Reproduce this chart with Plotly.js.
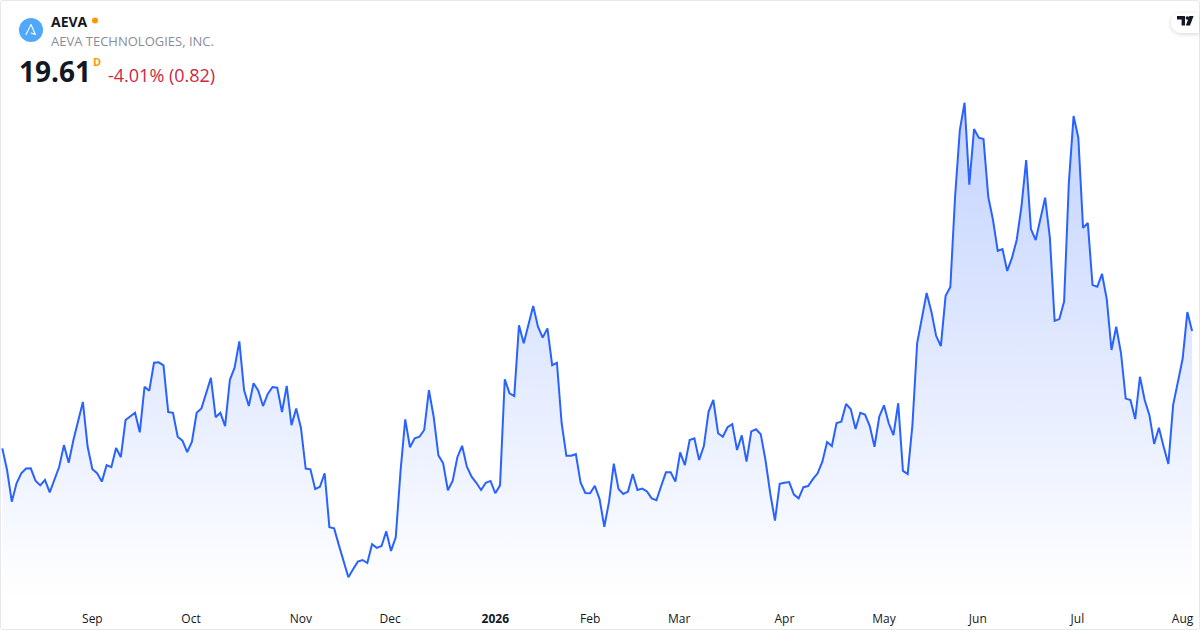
<!DOCTYPE html>
<html>
<head>
<meta charset="utf-8">
<script src="https://cdn.plot.ly/plotly-3.0.1.min.js"></script>
<style>
html,body{margin:0;padding:0;background:#fff;width:1200px;height:630px;overflow:hidden}
#chart{position:absolute;left:0;top:0;width:1200px;height:630px}
#frame{position:absolute;left:0;top:0;width:1198px;height:628px;border:1px solid #e6e8ee;border-radius:3px;pointer-events:none}
#overlay{position:absolute;left:0;top:0;pointer-events:none}
</style>
</head>
<body>
<div id="chart"></div>
<div id="frame"></div>
<svg id="overlay" width="1200" height="630" viewBox="0 0 1200 630">
  <defs><filter id="sh" x="-30%" y="-30%" width="160%" height="180%"><feDropShadow dx="0" dy="1" stdDeviation="2" flood-color="#000" flood-opacity="0.18"/></filter></defs>
  <circle cx="31" cy="30" r="12" fill="#4fa8fb"/>
  <path d="M25.8 35 L31 24.6 L35.4 34.4 L30.8 33" fill="none" stroke="#fff" stroke-width="1.1" stroke-linejoin="round"/>
  <circle cx="95" cy="20.5" r="3" fill="#ff9800"/>
  <path d="M1199 13 H1182 A11 10 0 0 0 1171 23 A11 10 0 0 0 1182 33 H1199 Z" fill="#fff" filter="url(#sh)"/>
  <path d="M1177 16 H1185 V25.5 H1181.6 V19.4 H1177 Z M1185.8 25.5 L1189.4 16 H1193.6 L1190 25.5 Z" fill="#131722"/>
  <circle cx="1187.4" cy="18" r="1.8" fill="#131722"/>
</svg>
<script>
var prices = [
14.56,13.63,12.27,13.06,13.49,13.69,13.70,13.17,12.97,13.20,12.67,13.27,13.77,14.70,13.94,14.92,15.71,16.55,14.63,13.66,
13.49,13.13,13.84,13.75,14.58,14.18,15.78,15.95,16.09,15.25,17.21,17.04,18.24,18.26,18.13,16.12,16.09,15.06,14.89,14.40,
14.85,16.09,16.28,16.93,17.59,15.90,16.09,15.52,17.50,18.03,19.16,17.07,16.38,17.36,17.04,16.38,16.90,17.20,17.17,16.12,
17.25,15.56,16.27,15.44,13.69,13.66,12.81,12.91,13.49,11.17,11.12,10.40,9.69,9.02,9.36,9.69,9.76,9.63,10.44,10.28,
10.36,10.99,10.15,10.74,13.56,15.81,14.61,14.99,15.06,15.35,17.06,15.92,14.26,13.92,12.76,13.16,14.18,14.67,13.77,13.34,
13.08,12.77,13.08,13.16,12.63,12.97,17.53,16.93,16.81,19.85,19.08,19.94,20.68,19.79,19.32,19.72,18.14,18.24,15.64,14.24,
14.24,14.31,13.08,12.64,12.63,12.95,12.38,11.19,12.27,13.90,12.81,12.60,12.70,13.46,12.77,12.83,12.71,12.41,12.33,12.94,
13.53,13.53,13.13,14.39,13.84,14.92,14.99,14.06,14.66,16.14,16.64,15.21,15.06,15.47,15.60,14.49,15.12,13.99,15.29,15.38,
15.17,14.06,12.63,11.45,13.04,13.08,13.11,12.57,12.41,12.89,12.94,13.24,13.49,13.99,14.83,14.66,15.65,15.71,16.47,16.24,
15.39,16.09,16.01,15.52,14.63,15.92,16.41,15.64,15.13,16.50,13.59,13.46,15.56,19.09,20.22,21.24,20.44,19.40,18.96,21.12,
21.50,25.38,28.25,29.42,25.90,28.29,27.92,27.86,25.38,24.38,23.05,23.13,22.19,22.75,23.52,24.95,26.96,23.99,23.52,24.47,
25.34,23.61,20.04,20.12,20.87,25.97,28.85,27.92,24.04,24.25,21.58,21.51,22.06,20.98,18.79,19.79,18.66,16.70,16.64,15.82,
17.64,16.64,15.99,14.75,15.45,14.63,13.89,16.42,17.43,18.40,20.42,19.61
];
var sessions = prices.map(function(_, i){ return i; });
var tickLabels = ["Sep","Oct","Nov","Dec","<b>2026</b>","Feb","Mar","Apr","May","Jun","Jul","Aug"];
var tickSessions = [19,39.8,63,81.8,104,124,142.8,165,186,205.8,226.8,249];

var symbol = "AEVA";
var company = "AEVA TECHNOLOGIES, INC.";
var lastPrice = "19.61";
var interval = "D";
var change = "-4.01% (0.82)";

var W = 1200, PLOT_H = 600;
function note(text, px, py, size, color, weight){
  return {text: weight ? "<b>"+text+"</b>" : text, xref:"paper", yref:"paper",
    x:px/W, y:(PLOT_H-py)/PLOT_H, xanchor:"left", yanchor:"middle", showarrow:false, borderpad:0, borderwidth:0,
    font:{family:"'Open Sans', sans-serif", size:size, color:color}};
}

var trace = {
  x: sessions, y: prices, type:"scatter", mode:"lines",
  line:{color:"#2962ff", width:2, shape:"linear"},
  fill:"tozeroy",
  fillgradient:{type:"vertical", start:8.04, stop:29.42,
    colorscale:[[0,"rgba(41,98,255,0)"],[1,"rgba(41,98,255,0.28)"]]},
  hoverinfo:"skip", showlegend:false
};

var layout = {
  width:1200, height:630,
  margin:{l:0,r:0,t:0,b:30,pad:0},
  paper_bgcolor:"#ffffff", plot_bgcolor:"#ffffff",
  showlegend:false, hovermode:false,
  xaxis:{range:[-0.49,252.67], tickmode:"array", tickvals:tickSessions, ticktext:tickLabels,
    showgrid:false, zeroline:false, showline:false, ticks:"outside", ticklen:8, tickcolor:"rgba(0,0,0,0)",
    tickangle:0, tickfont:{family:"'Open Sans', sans-serif", size:12, color:"#131722"}},
  yaxis:{range:[8.04,33.84], visible:false, showgrid:false, zeroline:false},
  annotations:[
    note(symbol, 51, 21, 14, "#131722", true),
    note(company, 51, 41, 13, "#8a8d96", false),
    note(lastPrice, 19, 71, 28, "#131722", true),
    note(interval, 93, 61, 11, "#ff9800", true),
    note(change, 108, 75, 18, "#d0273f", false)
  ]
};
Plotly.newPlot("chart",[trace],layout,{displayModeBar:false,staticPlot:true});
</script>
</body>
</html>
